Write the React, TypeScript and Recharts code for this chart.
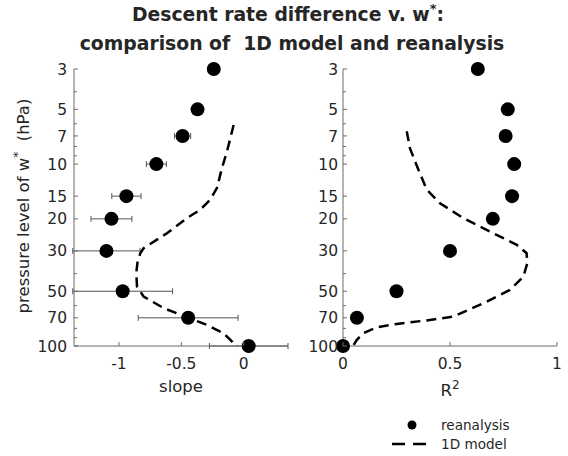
import React from 'react'
import { ScatterChart, Scatter, XAxis, YAxis, ErrorBar } from 'recharts'

// pressure levels (hPa) where w* is evaluated
const pressure = [3, 5, 7, 10, 15, 20, 30, 50, 70, 100]
// reanalysis regression slope and its error half-width
const slope = [-0.24, -0.37, -0.49, -0.7, -0.94, -1.06, -1.1, -0.97, -0.445, 0.04]
const slopeErr = [0.02, 0.02, 0.065, 0.08, 0.117, 0.164, 0.27, 0.4, 0.4, 0.315]
// reanalysis R^2
const r2 = [0.63, 0.77, 0.76, 0.8, 0.79, 0.7, 0.5, 0.25, 0.065, 0.0]

// 1D model curve, slope panel
const modelSlopeP = [6.1, 7.2, 8.5, 10.5, 13.5, 15.7, 17.8, 19.8, 24, 29, 30.9, 35, 39.8, 47.1, 53.5, 61.9, 69.5, 76.6, 85.1, 96.6, 100]
const modelSlope = [-0.081, -0.107, -0.134, -0.174, -0.214, -0.268, -0.348, -0.454, -0.615, -0.802, -0.829, -0.852, -0.861, -0.855, -0.802, -0.642, -0.454, -0.294, -0.161, -0.081, -0.05]

// 1D model curve, R^2 panel
const modelR2P = [6.6, 8.2, 10.7, 13.8, 16.4, 19.8, 23.5, 27.8, 30.9, 35.1, 41.5, 49.2, 58.2, 69, 71.9, 75.7, 78.9, 85.1, 92.7, 100]
const modelR2 = [0.298, 0.313, 0.352, 0.391, 0.453, 0.562, 0.687, 0.812, 0.858, 0.861, 0.843, 0.78, 0.656, 0.515, 0.407, 0.251, 0.157, 0.095, 0.064, 0.047]

const majorTicks = [3, 5, 7, 10, 15, 20, 30, 50, 70, 100]
const minorTicks = [4, 6, 8, 9, 40, 60, 80, 90]
const slopeTicks = [-1, -0.5, 0]
const r2Ticks = [0, 0.5, 1]

const allYTicks = [...majorTicks, ...minorTicks].sort((a, b) => a - b)

const slopeData = pressure.map((p, i) => ({ p, x: slope[i], err: slopeErr[i] }))
const r2Data = pressure.map((p, i) => ({ p, x: r2[i] }))
const slopeModel = modelSlopeP.map((p, i) => ({ p, x: modelSlope[i] }))
const r2Model = modelR2P.map((p, i) => ({ p, x: modelR2[i] }))

const TEXT = '#262626'
const AXIS = '#6b6b6b'
const FONT = '"DejaVu Sans", sans-serif'

const YTick = (props: any) => {
  const { x, y, payload, gap } = props
  const v = payload.value
  const major = majorTicks.includes(v)
  const ax = x + gap
  return (
    <g>
      <line x1={ax} x2={ax + (major ? 4 : 3)} y1={y} y2={y} stroke={AXIS} strokeWidth={1} />
      {major && (
        <text x={x} y={y} dy="0.36em" textAnchor="end" fontSize={15.5} fill={TEXT} fontFamily={FONT}>
          {v}
        </text>
      )}
    </g>
  )
}

const XTick = (props: any) => {
  const { x, y, payload } = props
  return (
    <g>
      <line x1={x} x2={x} y1={y} y2={y - 4} stroke={AXIS} strokeWidth={1} />
      <text x={x} y={y + 22.5} textAnchor="middle" fontSize={15.5} fill={TEXT} fontFamily={FONT}>
        {String(payload.value)}
      </text>
    </g>
  )
}

const Dot = (props: any) => <circle cx={props.cx} cy={props.cy} r={7} fill="#000" />
const NoDot = () => <g />

const dashLine = { stroke: '#000', strokeWidth: 2.5, strokeDasharray: '10 6', fill: 'none' }

export default function App() {
  return (
    <div
      style={{
        position: 'absolute',
        left: 0,
        top: 0,
        width: 568,
        height: 456,
        background: '#fff',
        fontFamily: FONT,
      }}
    >
      {/* slope panel */}
      <div style={{ position: 'absolute', left: 0, top: 0 }}>
        <ScatterChart width={300} height={456} margin={{ top: 69, right: 12, bottom: 80, left: 34 }}>
          <XAxis
            type="number"
            dataKey="x"
            domain={[-1.36, 0.355]}
            allowDataOverflow
            ticks={slopeTicks}
            interval={0}
            height={30}
            tickSize={0}
            tickMargin={0}
            tickLine={false}
            axisLine={{ stroke: AXIS }}
            tick={<XTick />}
          />
          <YAxis
            type="number"
            dataKey="p"
            scale="log"
            domain={[3, 100]}
            reversed
            ticks={allYTicks}
            interval={0}
            width={40}
            tickSize={0}
            tickMargin={7}
            tickLine={false}
            axisLine={{ stroke: AXIS }}
            tick={<YTick gap={7} />}
          />
          <Scatter
            data={slopeModel}
            line={dashLine}
            lineType="joint"
            shape={NoDot}
            isAnimationActive={false}
          />
          <Scatter data={slopeData} shape={Dot} isAnimationActive={false}>
            <ErrorBar dataKey="err" direction="x" width={3} stroke="#555" strokeWidth={1} />
          </Scatter>
        </ScatterChart>
      </div>

      {/* R^2 panel */}
      <div style={{ position: 'absolute', left: 290, top: 0 }}>
        <ScatterChart width={278} height={456} margin={{ top: 69, right: 11, bottom: 80, left: 23 }}>
          <XAxis
            type="number"
            dataKey="x"
            domain={[0, 1]}
            ticks={r2Ticks}
            interval={0}
            height={30}
            tickSize={0}
            tickMargin={0}
            tickLine={false}
            axisLine={{ stroke: AXIS }}
            tick={<XTick />}
          />
          <YAxis
            type="number"
            dataKey="p"
            scale="log"
            domain={[3, 100]}
            reversed
            ticks={allYTicks}
            interval={0}
            width={30}
            tickSize={0}
            tickMargin={5}
            tickLine={false}
            axisLine={{ stroke: AXIS }}
            tick={<YTick gap={5} />}
          />
          <Scatter
            data={r2Model}
            line={dashLine}
            lineType="joint"
            shape={NoDot}
            isAnimationActive={false}
          />
          <Scatter data={r2Data} shape={Dot} isAnimationActive={false} />
        </ScatterChart>
      </div>

      {/* titles, axis labels, legend */}
      <svg
        width={568}
        height={456}
        style={{ position: 'absolute', left: 0, top: 0, pointerEvents: 'none' }}
        fontFamily={FONT}
      >
        <text x={288} y={21} textAnchor="middle" fontSize={18.8} fontWeight="bold" fill={TEXT}>
          Descent rate difference v. w
          <tspan fontSize={13} dy={-8}>*</tspan>
          <tspan dy={8}>:</tspan>
        </text>
        <text x={292} y={50} textAnchor="middle" fontSize={18.8} fontWeight="bold" fill={TEXT} style={{ whiteSpace: 'pre' }}>
          comparison of  1D model and reanalysis
        </text>

        <text transform="translate(29,206) rotate(-90)" textAnchor="middle" fontSize={16.5} fill={TEXT} style={{ whiteSpace: 'pre' }}>
          pressure level of w
          <tspan fontSize={12} dy={-7}>*</tspan>
          <tspan dy={7}>  (hPa)</tspan>
        </text>

        <text x={181} y={392} textAnchor="middle" fontSize={16.5} fill={TEXT}>slope</text>
        <text x={450} y={396} textAnchor="middle" fontSize={16.5} fill={TEXT}>
          R<tspan fontSize={12} dy={-7}>2</tspan>
        </text>

        <circle cx={412} cy={425} r={4.5} fill="#000" />
        <text x={441} y={430} fontSize={13.6} fill={TEXT}>reanalysis</text>
        <line x1={392} x2={428} y1={444} y2={444} stroke="#000" strokeWidth={2.5} strokeDasharray="13 8" />
        <text x={441} y={449} fontSize={13.6} fill={TEXT}>1D model</text>
      </svg>
    </div>
  )
}
